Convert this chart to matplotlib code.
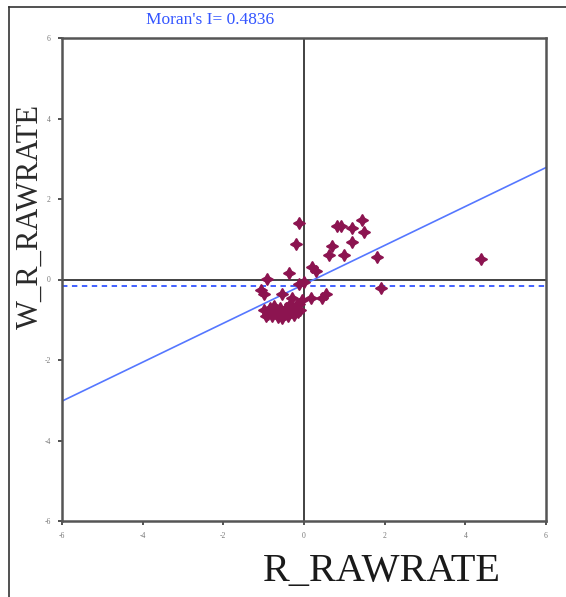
import numpy as np
import matplotlib
matplotlib.use("Agg")
import matplotlib.pyplot as plt
from matplotlib.lines import Line2D

# Moran scatterplot data (standardized rate vs. spatial lag)
r_rawrate = [-0.12, -0.20, 0.82, 0.92, 1.19, 1.44, 1.49, 0.69, 0.62, 0.99,
             1.19, 1.81, 4.39, 1.91, 0.20, 0.30, -0.37, -0.92, -1.07, -0.99,
             -0.55, -0.12, 0.00, -0.30, 0.17, 0.55, 0.45, -0.05,
             -1.00, -0.90, -0.80, -0.70, -0.60, -0.50, -0.40, -0.30, -0.20, -0.15,
             -0.95, -0.75, -0.55, -0.35, -0.85, -0.65, -0.45, -0.25, -0.12, -0.10]
w_r_rawrate = [1.41, 0.87, 1.34, 1.32, 1.27, 1.49, 1.19, 0.84, 0.62, 0.60,
               0.92, 0.55, 0.52, -0.22, 0.30, 0.20, 0.17, 0.02, -0.25, -0.37,
               -0.37, -0.12, -0.07, -0.45, -0.45, -0.37, -0.45, -0.50,
               -0.75, -0.85, -0.90, -0.80, -0.70, -0.85, -0.90, -0.75, -0.65, -0.80,
               -0.90, -0.65, -0.95, -0.60, -0.70, -0.92, -0.72, -0.88, -0.60, -0.75]
morans_i = 0.4836
intercept = -0.12
mean_lag = -0.15
ticks = [-6, -4, -2, 0, 2, 4, 6]

fig = plt.figure(figsize=(5.66, 5.97), dpi=100)
ax = fig.add_axes([62 / 566, 1 - 521 / 597, 484 / 566, 483 / 597])

ax.axhline(0, color="#333333", lw=1.3, zorder=1)
ax.axvline(0, color="#333333", lw=1.3, zorder=1)
ax.axhline(mean_lag, color="#3355ff", lw=1.3, ls=(0, (3, 2.5)), zorder=2)
xs = np.array([-6, 6])
ax.plot(xs, morans_i * xs + intercept, color="#5577ff", lw=1.2, zorder=2)

ax.scatter(r_rawrate, w_r_rawrate, marker=(4, 1, 0), s=60,
           color="#8c1450", edgecolors="#8c1450", linewidths=1.5, zorder=3)

ax.set_xlim(-6, 6)
ax.set_ylim(-6, 6)
ax.set_xticks(ticks)
ax.set_yticks(ticks)
ax.set_xticklabels([str(t) for t in ticks], fontsize=5.5, color="#777777",
                   family="Liberation Serif")
ax.set_yticklabels([str(t) for t in ticks], fontsize=5.5, color="#777777",
                   family="Liberation Serif")
ax.tick_params(direction="out", length=3, width=1.2, color="#333333", pad=5)
for sp in ax.spines.values():
    sp.set_color("#555555")
    sp.set_linewidth(1.8)

ax.set_xlabel("R_RAWRATE", fontsize=29, family="Liberation Serif",
              color="#1a1a1a")
ax.xaxis.set_label_coords(0.66, -0.066)
ax.set_ylabel("W_R_RAWRATE", fontsize=22, family="Liberation Serif",
              color="#2a2a2a")
ax.yaxis.set_label_coords(-0.035, 0.63)

fig.text(210 / 566, 1 - 20 / 597, "Moran's I= 0.4836", color="#3355ff",
         fontsize=12.5, family="Liberation Serif", ha="center", va="center")

# window frame
fig.add_artist(Line2D([9 / 566, 9 / 566], [0, 1 - 7 / 597],
                      transform=fig.transFigure, color="#333333", lw=1.2))
fig.add_artist(Line2D([9 / 566, 1], [1 - 7 / 597, 1 - 7 / 597],
                      transform=fig.transFigure, color="#333333", lw=1.2))

fig.savefig("out.png", dpi=100)
